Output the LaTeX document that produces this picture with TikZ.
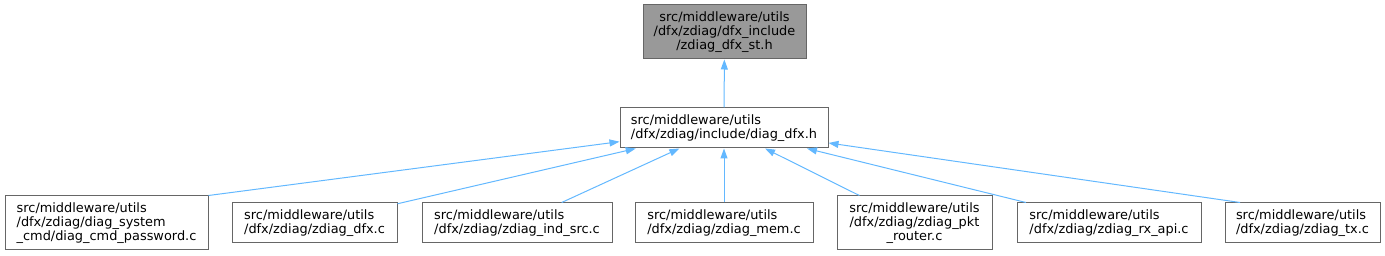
\documentclass[tikz,border=0pt]{standalone}
\usepackage{fontspec}
\setmainfont{DejaVu Sans}
\usetikzlibrary{arrows.meta, calc}

\definecolor{edgeblue}{HTML}{63B8FF}
\definecolor{boxgray}{HTML}{666666}
\definecolor{curgray}{HTML}{999999}

\tikzset{
	filebox/.style={draw=boxgray, line width=1pt, fill=white, align=left,
		inner xsep=10pt, inner ysep=3pt, font=\fontsize{12.9}{14}\selectfont},
	twoline/.style={minimum height=40pt},
	threeline/.style={minimum height=54pt},
	dep/.style={draw=edgeblue, line width=1pt, -{Triangle[length=10pt,width=7pt]}},
}

\begin{document}
\begin{tikzpicture}[x=1pt,y=-1pt]
	\useasboundingbox (0,0) rectangle (1385,256);
	
	% 被包含的头文件（灰色）
	\node[filebox, threeline, fill=curgray, align=center, minimum width=163pt] (st) at (724.5,32)
		{src/middleware/utils\\/dfx/zdiag/dfx\_include\\/zdiag\_dfx\_st.h};
	% 中间层 diag_dfx.h
	\node[filebox, twoline, minimum width=208pt] (mid) at (724,128)
		{src/middleware/utils\\/dfx/zdiag/include/diag\_dfx.h};
	
	% 底层源文件，从左到右
	\node[filebox, threeline, minimum width=203pt] (c1) at (106.5,223)
		{src/middleware/utils\\/dfx/zdiag/diag\_system\\\_cmd/diag\_cmd\_password.c};
	\node[filebox, twoline, minimum width=165pt] (c2) at (314.5,223)
		{src/middleware/utils\\/dfx/zdiag/zdiag\_dfx.c};
	\node[filebox, twoline, minimum width=190pt] (c3) at (517,223)
		{src/middleware/utils\\/dfx/zdiag/zdiag\_ind\_src.c};
	\node[filebox, twoline, minimum width=178pt] (c4) at (724,223)
		{src/middleware/utils\\/dfx/zdiag/zdiag\_mem.c};
	\node[filebox, threeline, minimum width=155pt, align=center] (c5) at (914.5,223)
		{src/middleware/utils\\/dfx/zdiag/zdiag\_pkt\\\_router.c};
	\node[filebox, twoline, minimum width=184pt] (c6) at (1109,223)
		{src/middleware/utils\\/dfx/zdiag/zdiag\_rx\_api.c};
	\node[filebox, twoline, minimum width=155pt] (c7) at (1302.5,223)
		{src/middleware/utils\\/dfx/zdiag/zdiag\_tx.c};
	
	% 依赖箭头
	\draw[dep] (mid) -- (st);
	\draw[dep] (c1.north east) -- (mid);
	\foreach \c in {c2,c3,c4,c5,c6} \draw[dep] (\c) -- (mid);
	\draw[dep] ($(c7.north west)!0.1!(c7.north east)$) -- (mid);
\end{tikzpicture}
\end{document}
